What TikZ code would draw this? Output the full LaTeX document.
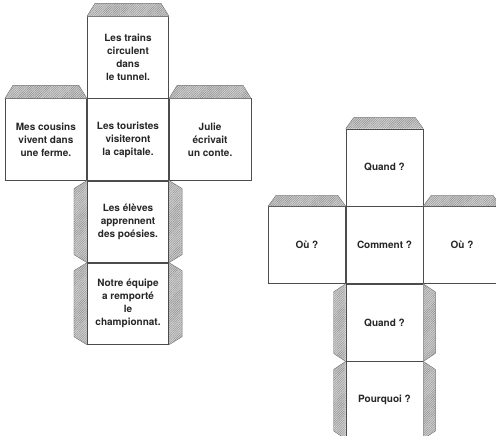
\documentclass[tikz,border=0pt]{standalone}
\usepackage{fontspec}
\setmainfont{TeX Gyre Heros}
\usepackage{tikz}
\usetikzlibrary{positioning,patterns.meta}

\tikzset{
	face/.style={draw=black!70, line width=0.6pt, align=center, inner sep=0pt, font=\fontsize{10}{13}\selectfont\bfseries, text=black!85},
	bigface/.style={face, minimum width=81.5pt, minimum height=81.5pt},
	smallface/.style={face, minimum width=77pt, minimum height=77pt},
	tab/.style={draw=black!55, line width=0.4pt, preaction={fill=black!18}, pattern={Lines[angle=45, distance=1.6pt, line width=0.45pt]}, pattern color=black!45}
}

\begin{document}
\begin{tikzpicture}[x=1pt, y=-1pt, node distance=0pt and 0pt]
	\useasboundingbox (0,0) rectangle (496,436);
	\clip (0,0) rectangle (496,436);
	% left net
	\node [bigface](touristes_node) at (128,139.5) {Les touristes\\visiteront\\la capitale.};
	\node [bigface](trains_node) [above=of touristes_node] {Les trains\\circulent\\dans\\le tunnel.};
	\node [bigface](cousins_node) [left=of touristes_node] {Mes cousins\\vivent dans\\une ferme.};
	\node [bigface](julie_node) [right=of touristes_node] {Julie\\écrivait\\un conte.};
	\node [bigface](eleves_node) [below=of touristes_node] {Les élèves\\apprennent\\des poésies.};
	\node [bigface](equipe_node) [below=of eleves_node] {Notre équipe\\a remporté\\le\\championnat.};
	\draw [tab] (trains_node.north west) -- ++(8pt,13pt) -- ([xshift=-8pt,yshift=13pt]trains_node.north east) -- (trains_node.north east);
	\draw [tab] (cousins_node.north west) -- ++(8pt,13pt) -- ([xshift=-8pt,yshift=13pt]cousins_node.north east) -- (cousins_node.north east);
	\draw [tab] (julie_node.north west) -- ++(8pt,13pt) -- ([xshift=-8pt,yshift=13pt]julie_node.north east) -- (julie_node.north east);
	\draw [tab] (eleves_node.north west) -- ++(-13pt,-8pt) -- ([xshift=-13pt,yshift=8pt]eleves_node.south west) -- (eleves_node.south west);
	\draw [tab] (eleves_node.north east) -- ++(13pt,-8pt) -- ([xshift=13pt,yshift=8pt]eleves_node.south east) -- (eleves_node.south east);
	\draw [tab] (equipe_node.north west) -- ++(-13pt,-8pt) -- ([xshift=-13pt,yshift=8pt]equipe_node.south west) -- (equipe_node.south west);
	\draw [tab] (equipe_node.north east) -- ++(13pt,-8pt) -- ([xshift=13pt,yshift=8pt]equipe_node.south east) -- (equipe_node.south east);
	% right net
	\node [smallface](comment_node) at (384.5,245) {Comment ?};
	\node [smallface](quand_top_node) [above=of comment_node] {Quand ?};
	\node [smallface](ou_left_node) [left=of comment_node] {Où ?};
	\node [smallface](ou_right_node) [right=of comment_node] {Où ?};
	\node [smallface](quand_node) [below=of comment_node] {Quand ?};
	\node [smallface](pourquoi_node) [below=of quand_node] {Pourquoi ?};
	\draw [tab] (quand_top_node.north west) -- ++(8pt,11pt) -- ([xshift=-8pt,yshift=11pt]quand_top_node.north east) -- (quand_top_node.north east);
	\draw [tab] (ou_left_node.north west) -- ++(8pt,11pt) -- ([xshift=-8pt,yshift=11pt]ou_left_node.north east) -- (ou_left_node.north east);
	\draw [tab] (ou_right_node.north west) -- ++(8pt,11pt) -- ([xshift=-8pt,yshift=11pt]ou_right_node.north east) -- (ou_right_node.north east);
	\draw [tab] (quand_node.north west) -- ++(-12pt,-8pt) -- ([xshift=-12pt,yshift=8pt]quand_node.south west) -- (quand_node.south west);
	\draw [tab] (quand_node.north east) -- ++(12pt,-8pt) -- ([xshift=12pt,yshift=8pt]quand_node.south east) -- (quand_node.south east);
	\draw [tab] (pourquoi_node.north west) -- ++(-12pt,-8pt) -- ([xshift=-12pt,yshift=8pt]pourquoi_node.south west) -- (pourquoi_node.south west);
	\draw [tab] (pourquoi_node.north east) -- ++(12pt,-8pt) -- ([xshift=12pt,yshift=8pt]pourquoi_node.south east) -- (pourquoi_node.south east);
\end{tikzpicture}
\end{document}
